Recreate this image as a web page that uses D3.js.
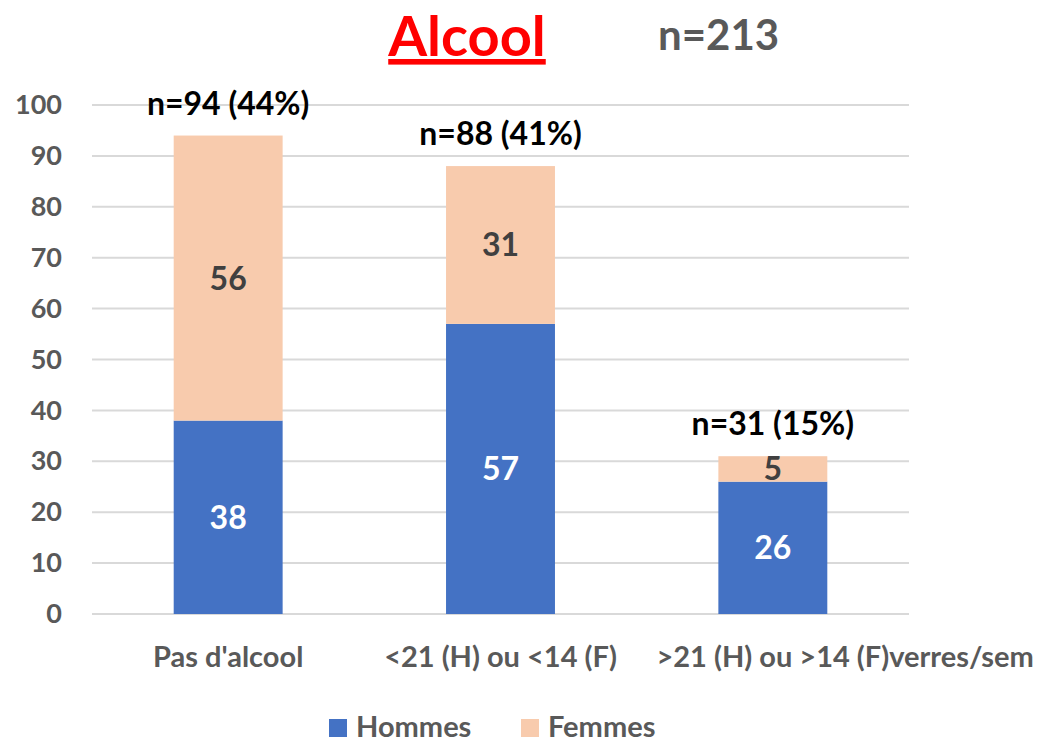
<!DOCTYPE html>
<html>
<head>
<meta charset="utf-8">
<script src="https://cdn.jsdelivr.net/npm/d3@7"></script>
<style>
  body { margin: 0; background: #fff; }
  svg { font-family: Lato, "Open Sans", sans-serif; font-weight: bold; }
</style>
</head>
<body>
<script>
// data
var categories = ["Pas d'alcool", "<21 (H) ou <14 (F)", ">21 (H) ou >14 (F)"];
var categorySuffix = ["", "", "verres/sem"];
var hommes = [38, 57, 26];
var femmes = [56, 31, 5];
var totalLabels = ["n=94 (44%)", "n=88 (41%)", "n=31 (15%)"];
var yTicks = [0, 10, 20, 30, 40, 50, 60, 70, 80, 90, 100];
var seriesNames = ["Hommes", "Femmes"];
var seriesColors = ["#4472C4", "#F8CBAD"];

var width = 1046, height = 744;
var margin = {left: 92, right: 137, top: 105, bottom: 130};

var svg = d3.select("body").append("svg")
    .attr("width", width)
    .attr("height", height);

var x = d3.scaleBand()
    .domain(categories)
    .range([margin.left, width - margin.right])
    .paddingInner(0.6)
    .paddingOuter(0.3);

var y = d3.scaleLinear()
    .domain([0, 100])
    .range([height - margin.bottom, margin.top]);

// grid
svg.append("g")
    .selectAll("line")
    .data(yTicks)
    .enter().append("line")
        .attr("x1", margin.left)
        .attr("x2", width - margin.right)
        .attr("y1", function(d) { return y(d); })
        .attr("y2", function(d) { return y(d); })
        .style("stroke", "#D9D9D9")
        .style("stroke-width", "2px");

// y axis labels
var yAxis = d3.axisLeft(y).tickValues(yTicks).tickSize(0).tickPadding(0);
var yG = svg.append("g")
    .attr("transform", "translate(62,0)")
    .call(yAxis);
yG.select(".domain").remove();
yG.selectAll("text")
    .attr("fill", "#595959")
    .style("font-family", "Lato, sans-serif")
    .style("font-weight", "bold")
    .style("font-size", "27px");

// stacked bars
var rows = categories.map(function(c, i) {
    return {cat: c, Hommes: hommes[i], Femmes: femmes[i]};
});
var stack = d3.stack().keys(seriesNames)(rows);

var layer = svg.selectAll(".layer")
    .data(stack)
    .enter().append("g")
        .attr("class", "layer")
        .style("fill", function(d, i) { return seriesColors[i]; });

layer.selectAll("rect")
    .data(function(d) { return d; })
    .enter().append("rect")
        .attr("x", function(d) { return x(d.data.cat); })
        .attr("width", x.bandwidth())
        .attr("y", function(d) { return y(d[1]); })
        .attr("height", function(d) { return y(d[0]) - y(d[1]); });

// value labels
stack.forEach(function(s, si) {
    svg.append("g").selectAll("text")
        .data(s)
        .enter().append("text")
            .attr("x", function(d) { return x(d.data.cat) + x.bandwidth() / 2; })
            .attr("y", function(d) { return (y(d[0]) + y(d[1])) / 2; })
            .attr("dy", "0.36em")
            .attr("text-anchor", "middle")
            .attr("fill", si == 0 ? "#ffffff" : "#404040")
            .style("font-size", "32px")
            .text(function(d) { return d[1] - d[0]; });
});

// totals
svg.append("g").selectAll("text")
    .data(rows)
    .enter().append("text")
        .attr("x", function(d) { return x(d.cat) + x.bandwidth() / 2; })
        .attr("y", function(d) { return y(d.Hommes + d.Femmes) - 21; })
        .attr("text-anchor", "middle")
        .attr("fill", "#000")
        .style("font-size", "32px")
        .text(function(d, i) { return totalLabels[i]; });

// category labels (last one overflows with its suffix)
svg.append("g").selectAll("text")
    .data(categories)
    .enter().append("text")
        .attr("y", 667)
        .attr("fill", "#595959")
        .style("font-size", "29px")
        .each(function(d, i) {
            var t = d3.select(this).text(d);
            var w = this.getComputedTextLength();
            t.attr("x", x(d) + x.bandwidth() / 2 - w / 2);
            if (categorySuffix[i]) t.append("tspan").text(categorySuffix[i]);
        });

// title
svg.append("text")
    .attr("x", 467)
    .attr("y", 56)
    .attr("text-anchor", "middle")
    .attr("fill", "#FF0000")
    .style("font-size", "56px")
    .style("text-decoration", "underline")
    .text("Alcool");

svg.append("text")
    .attr("x", 658)
    .attr("y", 50)
    .attr("fill", "#595959")
    .style("font-size", "42px")
    .text("n=213");

// legend
var legendX = [329, 521];
var legend = svg.selectAll(".legend")
    .data(seriesNames)
    .enter().append("g")
        .attr("class", "legend")
        .attr("transform", function(d, i) { return "translate(" + legendX[i] + ",719)"; });
legend.append("rect")
    .attr("width", 18)
    .attr("height", 18)
    .style("fill", function(d, i) { return seriesColors[i]; });
legend.append("text")
    .attr("x", 27)
    .attr("y", 18)
    .attr("fill", "#595959")
    .style("font-size", "29px")
    .text(function(d) { return d; });
</script>
</body>
</html>
